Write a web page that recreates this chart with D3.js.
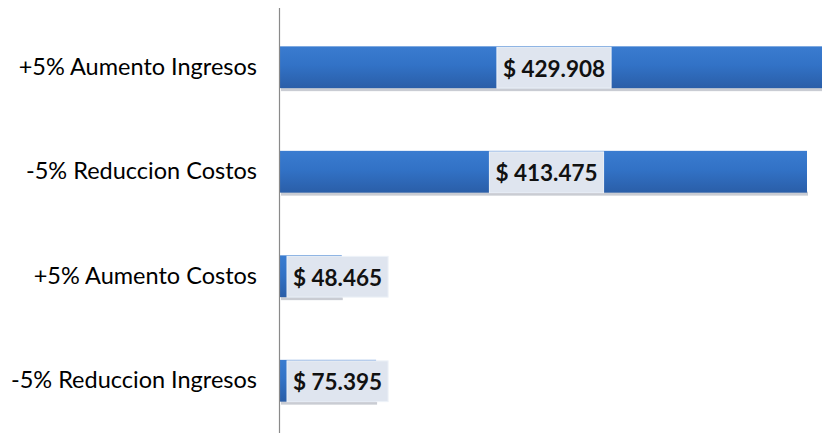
<!DOCTYPE html>
<html>
<head>
<meta charset="utf-8">
<script src="https://cdn.jsdelivr.net/npm/d3@7"></script>
<style>
  body { margin: 0; background: #fff; }
  svg { display: block; }
</style>
</head>
<body>
<div id="chart"></div>
<script>
// escenarios de sensibilidad, bar chart horizontal

let categories = ['+5% Aumento Ingresos', '-5% Reduccion Costos', '+5% Aumento Costos', '-5% Reduccion Ingresos']
let values = [429908, 413475, 48465, 75395]
let valueLabels = ['$ 429.908', '$ 413.475', '$ 48.465', '$ 75.395']

let width = 822
let height = 435
let margin = {top: 15, bottom: 2, left: 280, right: 0}

let svg = d3.select('#chart')
    .append('svg')
    .attr('width', width)
    .attr('height', height)

let defs = svg.append('defs')
let grad = defs.append('linearGradient')
    .attr('id', 'barGrad')
    .attr('x1', 0).attr('y1', 0).attr('x2', 0).attr('y2', 1)
grad.append('stop').attr('offset', '0%').attr('stop-color', '#3a7cd0')
grad.append('stop').attr('offset', '45%').attr('stop-color', '#3272c6')
grad.append('stop').attr('offset', '100%').attr('stop-color', '#2a5ea8')

let clip = defs.append('clipPath').attr('id', 'plotClip')
clip.append('rect').attr('x', 0).attr('y', 0).attr('width', width).attr('height', height)

let x = d3.scaleLinear()
    .domain([0, 413475])
    .range([margin.left, 807])

let y = d3.scaleBand()
    .domain(categories)
    .range([margin.top, height - margin.bottom])
    .paddingInner(0.6)
    .paddingOuter(0.3)

let rows = categories.map((c, i) => ({cat: c, value: values[i], label: valueLabels[i]}))

let g = svg.append('g').attr('clip-path', 'url(#plotClip)')

// sombra debajo de las barras
g.selectAll('.shadow')
    .data(rows)
    .enter()
    .append('rect')
    .attr('class', 'shadow')
    .attr('x', margin.left + 1)
    .attr('y', d => y(d.cat) + y.bandwidth() - 1)
    .attr('width', d => x(d.value) - margin.left)
    .attr('height', 4)
    .attr('fill', '#c9ccd3')

g.selectAll('.bar')
    .data(rows)
    .enter()
    .append('rect')
    .attr('class', 'bar')
    .attr('x', margin.left)
    .attr('y', d => y(d.cat))
    .attr('width', d => x(d.value) - margin.left)
    .attr('height', y.bandwidth())
    .attr('fill', 'url(#barGrad)')

// etiquetas de valor
let labelG = g.selectAll('.vlabel')
    .data(rows)
    .enter()
    .append('g')
    .attr('class', 'vlabel')

labelG.append('rect')
    .attr('fill', '#dfe5ef')
    .attr('stroke', '#eef2f8')

labelG.append('text')
    .text(d => d.label)
    .attr('font-family', 'Lato, "Open Sans", sans-serif')
    .attr('font-weight', 'bold')
    .attr('font-size', '22.5px')
    .attr('fill', '#111')
    .attr('dominant-baseline', 'central')

let padX = 6
labelG.each(function(d) {
    let node = d3.select(this)
    let tw = node.select('text').node().getComputedTextLength()
    let boxW = tw + 2 * padX
    let x0 = margin.left
    let x1 = Math.min(x(d.value), width)
    let bx
    if (x1 - x0 > boxW + 20) bx = (x0 + x1) / 2 - boxW / 2 + 3
    else bx = x0 + 7
    let yc = y(d.cat) + y.bandwidth() / 2
    node.select('rect')
        .attr('x', bx)
        .attr('y', y(d.cat) + 1)
        .attr('width', boxW)
        .attr('height', y.bandwidth() - 1)
    node.select('text')
        .attr('x', bx + padX)
        .attr('y', yc + 1)
})

// eje vertical
let yAxis = d3.axisLeft(y).tickSize(0).tickPadding(23)
let axisG = svg.append('g')
    .attr('transform', `translate(${margin.left},0)`)
    .call(yAxis)
axisG.select('.domain')
    .attr('d', `M-0.5,8V${height - 2}`)
    .attr('stroke', '#8a8a8a')
    .attr('stroke-width', 1.2)
axisG.selectAll('.tick text')
    .attr('font-family', 'Lato, "Open Sans", sans-serif')
    .attr('font-size', '23.5px')
    .attr('fill', '#000')
</script>
</body>
</html>
